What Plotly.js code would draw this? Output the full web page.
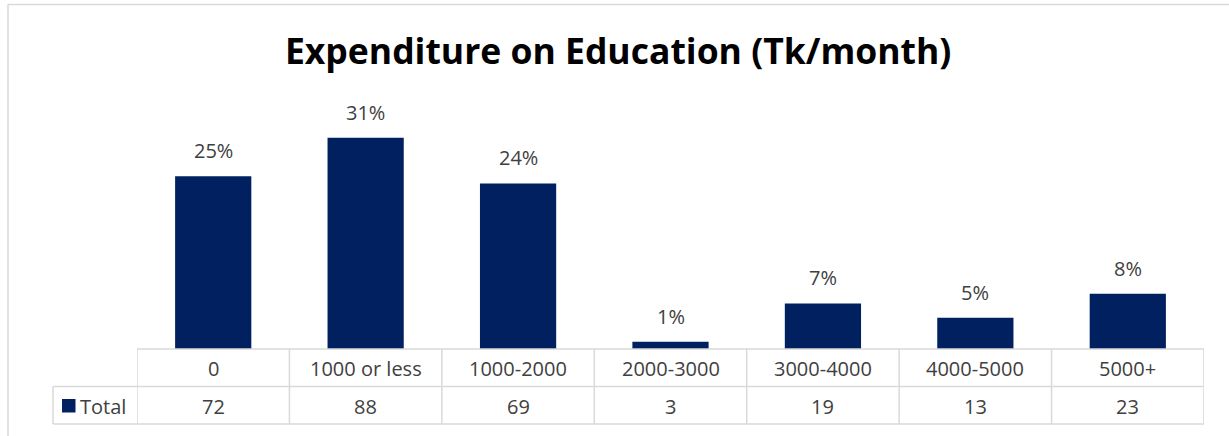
<!DOCTYPE html>
<html>
<head>
<meta charset="utf-8">
<script src="https://cdn.plot.ly/plotly-3.0.1.min.js"></script>
<style>html,body{margin:0;padding:0;background:#fff;}#chart{width:1229px;height:436px;}</style>
</head>
<body>
<div id="chart"></div>
<script>
const categories = ["0", "1000 or less", "1000-2000", "2000-3000", "3000-4000", "4000-5000", "5000+"];
const totals = [72, 88, 69, 3, 19, 13, 23];
const pctLabels = ["25%", "31%", "24%", "1%", "7%", "5%", "8%"];
const seriesName = "Total";
const titleText = "Expenditure on Education (Tk/month)";

const W = 1229, H = 436;
const mL = 137, mR = 25, mT = 100, mB = 87;
const pw = W - mL - mR, ph = H - mT - mB;
const px = x => (x - mL) / pw;          // pixel x -> paper
const py = y => (H - mB - y) / ph;       // pixel y -> paper

const barColor = "#002060";
const lineColor = "#d9d9d9";
const textColor = "#404040";
const font = "'Open Sans', Lato, sans-serif";
const fs = 20;

const trace = {
  type: "bar",
  x: categories,
  y: totals,
  name: seriesName,
  marker: {color: barColor},
  width: 0.5,
  hoverinfo: "x+y"
};

const shapes = [];
const annotations = [];
// outer chart border (left and top)
shapes.push({type: "line", xref: "paper", yref: "paper", x0: px(8), x1: px(8), y0: py(4.5), y1: py(440), line: {color: lineColor, width: 1.5}});
shapes.push({type: "line", xref: "paper", yref: "paper", x0: px(8), x1: px(1232), y0: py(4.5), y1: py(4.5), line: {color: lineColor, width: 1.5}});
// table horizontal lines
shapes.push({type: "line", xref: "paper", yref: "paper", x0: 0, x1: 1, y0: 0, y1: 0, line: {color: lineColor, width: 1.5}});
shapes.push({type: "line", xref: "paper", yref: "paper", x0: px(53), x1: 1, y0: py(386.5), y1: py(386.5), line: {color: lineColor, width: 1.5}});
shapes.push({type: "line", xref: "paper", yref: "paper", x0: px(53), x1: 1, y0: py(424), y1: py(424), line: {color: lineColor, width: 1.5}});
shapes.push({type: "line", xref: "paper", yref: "paper", x0: px(53), x1: px(53), y0: py(386.5), y1: py(424), line: {color: lineColor, width: 1.5}});
// table vertical lines at category boundaries
for (let i = 0; i <= categories.length; i++) {
  shapes.push({type: "line", xref: "x", yref: "paper", x0: i - 0.5, x1: i - 0.5, y0: 0, y1: py(424), line: {color: lineColor, width: 1.5}});
}
// legend key square
shapes.push({type: "rect", xref: "paper", yref: "paper", x0: px(62), x1: px(75.5), y0: py(399), y1: py(412.5), fillcolor: barColor, line: {width: 0}});

categories.forEach((c, i) => {
  annotations.push({x: c, y: totals[i], xref: "x", yref: "y", text: pctLabels[i], showarrow: false, yanchor: "bottom", yshift: 10, font: {family: font, size: fs, color: textColor}});
  annotations.push({x: c, y: py(368), xref: "x", yref: "paper", text: c, showarrow: false, yanchor: "middle", font: {family: font, size: fs, color: textColor}});
  annotations.push({x: c, y: py(406), xref: "x", yref: "paper", text: String(totals[i]), showarrow: false, yanchor: "middle", font: {family: font, size: fs, color: textColor}});
});
annotations.push({x: px(78), y: py(406), xref: "paper", yref: "paper", text: seriesName, showarrow: false, xanchor: "left", yanchor: "middle", font: {family: font, size: fs, color: textColor}});

const layout = {
  width: W, height: H,
  margin: {l: mL, r: mR, t: mT, b: mB, pad: 0},
  paper_bgcolor: "#fff", plot_bgcolor: "#fff",
  title: {text: "<b>" + titleText + "</b>", x: 0.503, xanchor: "center", y: 1 - 52 / H, yanchor: "middle", font: {family: font, size: 35.5, color: "#000"}},
  showlegend: false,
  xaxis: {type: "category", range: [-0.5, categories.length - 0.5], showticklabels: false, ticks: "", showline: false, showgrid: false, zeroline: false, fixedrange: true},
  yaxis: {range: [0, ph / 2.4], visible: false, showgrid: false, zeroline: false, fixedrange: true},
  shapes: shapes,
  annotations: annotations,
  bargap: 0.5
};

Plotly.newPlot("chart", [trace], layout, {displayModeBar: false, staticPlot: true});
</script>
</body>
</html>
